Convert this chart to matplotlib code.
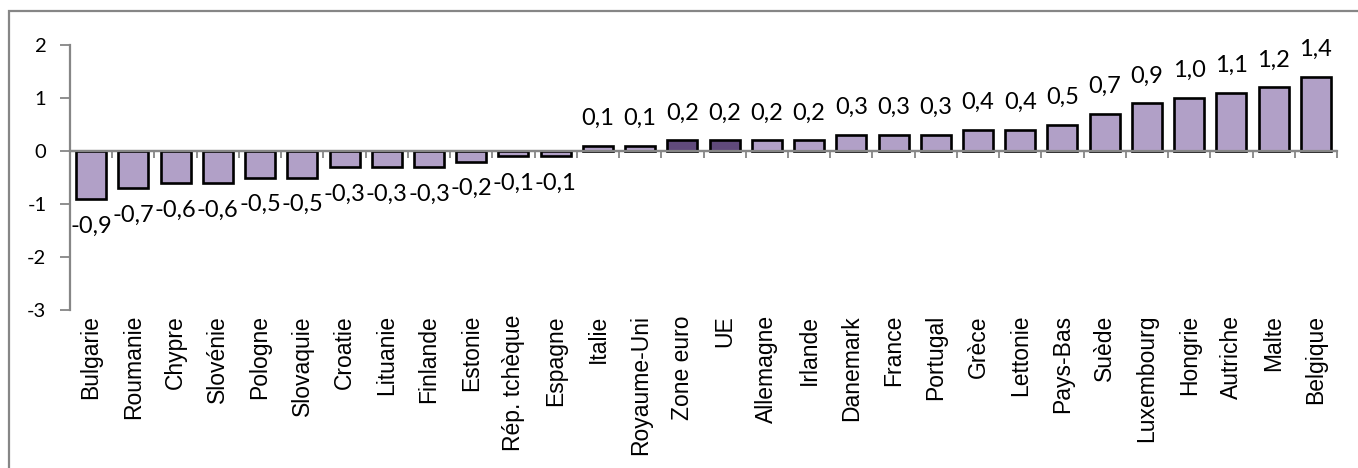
import matplotlib
matplotlib.use("Agg")
import matplotlib.pyplot as plt
from matplotlib.patches import Rectangle
import numpy as np

countries = ["Bulgarie", "Roumanie", "Chypre", "Slovénie", "Pologne", "Slovaquie",
             "Croatie", "Lituanie", "Finlande", "Estonie", "Rép. tchèque", "Espagne",
             "Italie", "Royaume-Uni", "Zone euro", "UE", "Allemagne", "Irlande",
             "Danemark", "France", "Portugal", "Grèce", "Lettonie", "Pays-Bas",
             "Suède", "Luxembourg", "Hongrie", "Autriche", "Malte", "Belgique"]
values = [-0.9, -0.7, -0.6, -0.6, -0.5, -0.5, -0.3, -0.3, -0.3, -0.2, -0.1, -0.1,
          0.1, 0.1, 0.2, 0.2, 0.2, 0.2, 0.3, 0.3, 0.3, 0.4, 0.4, 0.5,
          0.7, 0.9, 1.0, 1.1, 1.2, 1.4]
highlight = ["Zone euro", "UE"]
y_ticks = [-3, -2, -1, 0, 1, 2]

W, H = 1358, 468
fig = plt.figure(figsize=(W / 100, H / 100), dpi=100)
ax = fig.add_axes([70 / W, 1 - 310 / H, (1337 - 70) / W, (310 - 45) / H])

light = "#B1A0C7"
dark = "#604A7B"
grey = "#868686"
colors = [dark if c in highlight else light for c in countries]
x = np.arange(len(countries))

ax.axhline(0, color=grey, lw=1.6, zorder=1)
ax.bar(x, values, width=0.71, color=colors, edgecolor="black", linewidth=1.9, zorder=2)

for xi, v in zip(x, values):
    lbl = f"{v:.1f}".replace(".", ",")
    if v >= 0:
        ax.annotate(lbl, (xi, v), xytext=(0, 15), textcoords="offset points",
                    ha="center", va="baseline", fontsize=17, family="Lato")
    else:
        ax.annotate(lbl, (xi, v), xytext=(0, -12), textcoords="offset points",
                    ha="center", va="top", fontsize=17, family="Lato")

ax.set_xlim(-0.5, len(countries) - 0.5)
ax.set_ylim(min(y_ticks), max(y_ticks))
ax.set_yticks(y_ticks)
ax.set_yticklabels([str(t) for t in y_ticks], fontsize=14.5, family="Lato")
ax.tick_params(axis="y", direction="out", length=7, width=1.3, color=grey, pad=10)

ax.spines["top"].set_visible(False)
ax.spines["right"].set_visible(False)
ax.spines["left"].set_color(grey)
ax.spines["left"].set_linewidth(1.6)
ax.spines["bottom"].set_position(("data", 0))
ax.spines["bottom"].set_color(grey)
ax.spines["bottom"].set_linewidth(1.6)

ax.set_xticks(x)
ax.set_xticklabels(countries, rotation=90, fontsize=16.5, family="Liberation Sans",
                   va="top", ha="center")
ax.set_xticks(np.arange(-0.5, len(countries), 1.0), minor=True)
ax.tick_params(axis="x", which="major", length=0, pad=(315 - 151) * 0.72)
ax.tick_params(axis="x", which="minor", direction="out", length=5, width=1.3, color=grey)

border = Rectangle((9 / W, -0.2), 1.2, 1 - 11 / H + 0.2, transform=fig.transFigure,
                   fill=False, edgecolor=grey, linewidth=1.6, clip_on=False)
fig.patches.append(border)

fig.savefig("out.png", dpi=100)
